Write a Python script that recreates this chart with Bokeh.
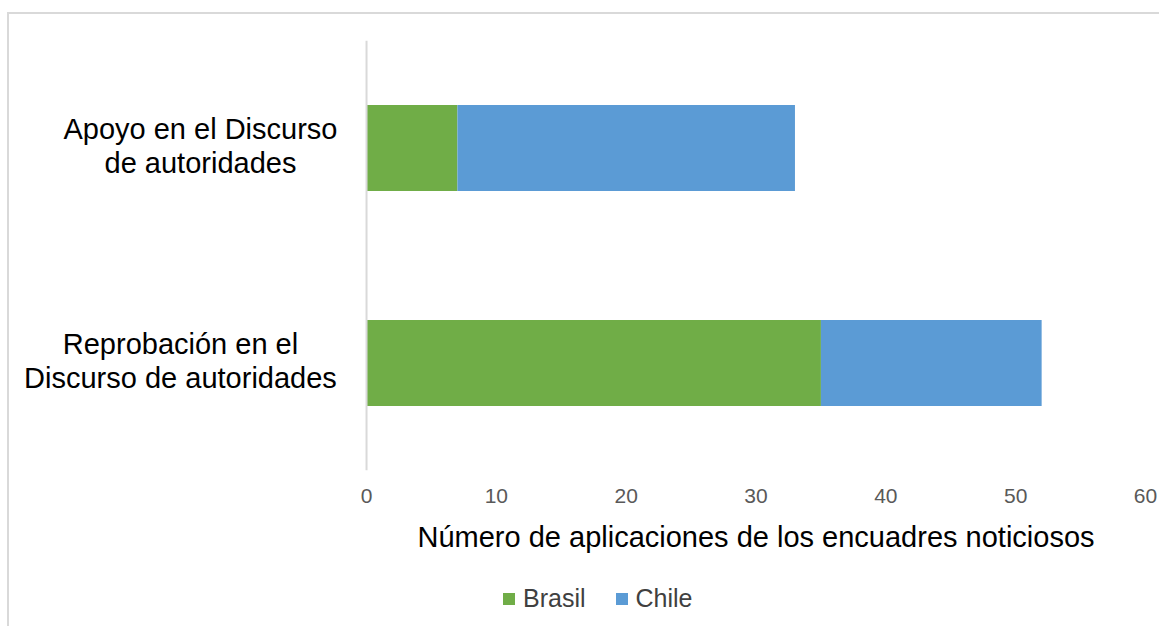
from bokeh.plotting import figure
from bokeh.layouts import column
from bokeh.models import (ColumnDataSource, FactorRange, Range1d, Legend, LegendItem,
                          FixedTicker, LabelSet, Label, Span)
from bokeh.core.properties import value
from bokeh.embed import file_html
from bokeh.resources import INLINE

# ---- data ----
categories = ["Reprobación en el Discurso de autoridades", "Apoyo en el Discurso de autoridades"]
label_line1 = ["Reprobación en el", "Apoyo en el Discurso"]
label_line2 = ["Discurso de autoridades", "de autoridades"]
brasil = [35, 7]
chile = [17, 26]
series = ["Brasil", "Chile"]
x_ticks = [0, 10, 20, 30, 40, 50, 60]
x_title = "Número de aplicaciones de los encuadres noticiosos"

# ---- style / layout ----
colors = ["#70AD47", "#5B9BD5"]
FONT = "Liberation Sans"
X_START = -27.50            # room left of the value axis for the category labels
label_x = [-14.33, -12.79]  # centres of the category label blocks (data units)
LINE1_OFF, LINE2_OFF = 9.5, -25.0   # baseline offsets of the two label lines (px)

source = ColumnDataSource(dict(cat=categories, Brasil=brasil, Chile=chile))
lab_src = ColumnDataSource(dict(
    cat=categories + categories,
    text=label_line1 + label_line2,
    lx=label_x + label_x,
    yo=[LINE1_OFF] * len(categories) + [LINE2_OFF] * len(categories)))
x_range = Range1d(X_START, x_ticks[-1])

# ---------- main chart ----------
p = figure(width=1150, height=506, output_backend="svg", toolbar_location=None,
           y_range=FactorRange(factors=categories), x_range=x_range,
           min_border_left=0, min_border_right=14, min_border_top=26, min_border_bottom=50)
p.outline_line_color = None
p.xgrid.visible = False
p.ygrid.visible = False
p.yaxis.visible = False

p.hbar_stack(series, y="cat", height=0.4, color=colors, line_color=None, source=source)

p.add_layout(Span(location=x_ticks[0], dimension="height", line_color="#d9d9d9", line_width=2))

p.xaxis.ticker = FixedTicker(ticks=x_ticks)
p.xaxis.axis_line_color = None
p.xaxis.major_tick_line_color = None
p.xaxis.major_tick_out = 0
p.xaxis.minor_tick_line_color = None
p.xaxis.major_label_standoff = 18
p.xaxis.major_label_text_font = FONT
p.xaxis.major_label_text_font_size = "21px"
p.xaxis.major_label_text_color = "#595959"

p.add_layout(LabelSet(x="lx", y="cat", text="text", y_offset="yo", source=lab_src,
                      text_align="center", text_baseline="alphabetic",
                      text_font=value(FONT), text_font_size="29px", text_color="#000000"))

# ---------- axis title + legend ----------
q = figure(width=1150, height=106, output_backend="svg", toolbar_location=None,
           y_range=FactorRange(factors=categories), x_range=x_range,
           min_border_left=0, min_border_right=14, min_border_top=0, min_border_bottom=0)
q.outline_line_color = None
q.axis.visible = False
q.grid.visible = False
rs = q.hbar_stack(series, y="cat", height=0.4, color=colors, line_color=None, source=source)
for r in rs:
    r.visible = False

q.add_layout(Label(x=(x_ticks[0] + x_ticks[-1]) / 2, y=90, y_units="screen", text=x_title,
                   text_align="center", text_baseline="alphabetic",
                   text_font=FONT, text_font_size="29px", text_color="#000000"))

legend = Legend(items=[LegendItem(label=s, renderers=[r]) for s, r in zip(series, rs)],
                orientation="horizontal", location=(492, 13),
                padding=0, margin=0, spacing=28, label_standoff=7,
                glyph_width=15, glyph_height=15,
                border_line_color=None, background_fill_alpha=0,
                inactive_fill_alpha=0,
                label_text_font=FONT, label_text_font_size="25px", label_text_color="#404040")
q.add_layout(legend, "center")

page = column(p, q, spacing=0)
page.styles = {"margin-left": "7px", "margin-top": "12px",
               "border-top": "2px solid #d9d9d9", "border-left": "2px solid #d9d9d9"}

open("out.html", "w").write(file_html(page, INLINE))
